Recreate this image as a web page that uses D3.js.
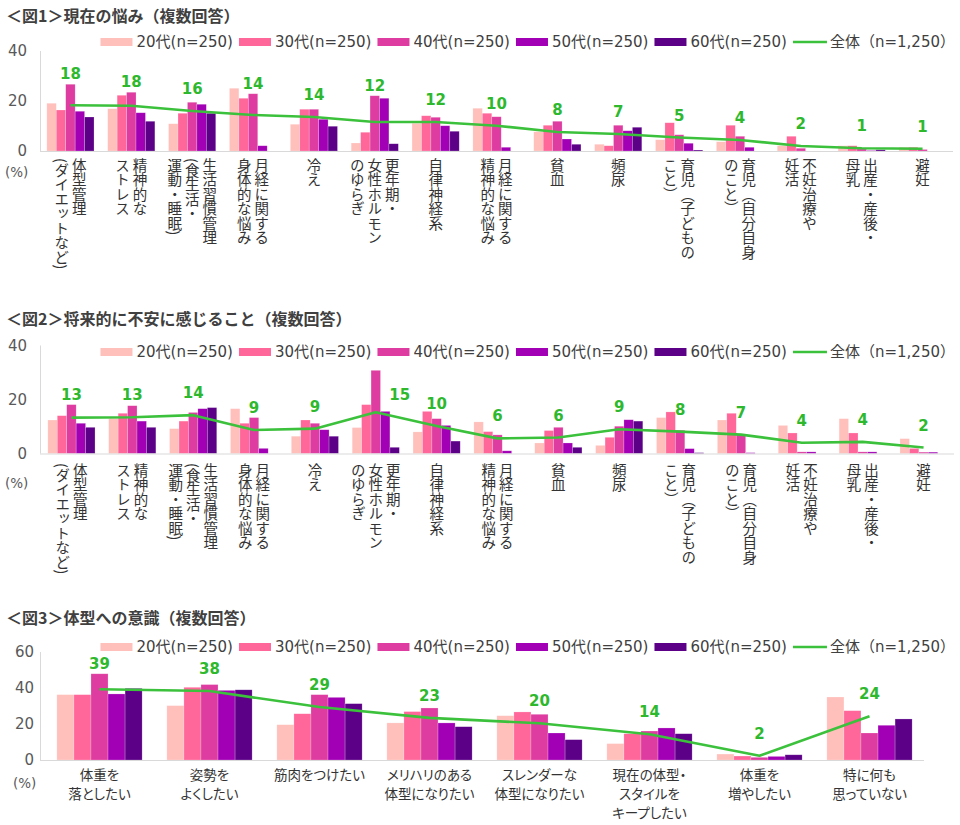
<!DOCTYPE html>
<html><head><meta charset="utf-8">
<script src="https://cdn.jsdelivr.net/npm/d3@7"></script>
<style>
html,body{margin:0;padding:0;background:#fff;}
svg{display:block;}
</style></head>
<body>
<svg id="chart" width="960" height="825"></svg>
<script>
// ---------- DATA ----------
const seriesNames = ["20代(n=250)", "30代(n=250)", "40代(n=250)", "50代(n=250)", "60代(n=250)"];
const totalName = "全体（n=1,250）";
const seriesColors = ["#FFBFBA", "#FF6699", "#DE3CA0", "#A200B5", "#5C0088"];
const lineColor = "#3CC13C";
const labelColor = "#2EB82E";

// Figure 1
const fig1Title = "＜図1＞現在の悩み（複数回答）";
const fig1Categories = [
  ["体型管理", "(ダイエットなど)"],
  ["精神的な", "ストレス"],
  ["生活習慣管理", "(食生活・", "運動・睡眠)"],
  ["月経に関する", "身体的な悩み"],
  ["冷え"],
  ["更年期・", "女性ホルモン", "のゆらぎ"],
  ["自律神経系"],
  ["月経に関する", "精神的な悩み"],
  ["貧血"],
  ["頻尿"],
  ["育児（子どもの", "こと）"],
  ["育児（自分自身", "のこと）"],
  ["不妊治療や", "妊活"],
  ["出産・産後・", "母乳"],
  ["避妊"]
];
const fig1Age20 = [19.1, 16.9, 10.9, 25.1, 10.7, 3.2, 11.1, 17.1, 7.7, 2.7, 4.5, 3.7, 2.1, 2.1, 1.5];
const fig1Age30 = [16.4, 22.3, 15.1, 21.1, 16.7, 7.5, 14.1, 15.1, 10.3, 2.1, 11.3, 10.3, 5.9, 2.1, 1.5];
const fig1Age40 = [26.7, 23.5, 19.5, 22.9, 16.7, 22.1, 13.5, 13.7, 11.9, 10.3, 6.5, 5.9, 1.1, 0.8, 0.6];
const fig1Age50 = [15.9, 15.3, 18.7, 2.1, 12.7, 21.1, 10.1, 1.5, 4.8, 8.1, 3.1, 1.5, 0, 0.2, 0];
const fig1Age60 = [13.6, 11.9, 15.1, 0, 9.9, 2.9, 7.9, 0, 2.7, 9.5, 0.4, 0, 0, 0.5, 0];
const fig1Total = [18.3, 18.1, 16.0, 14.4, 13.6, 11.6, 11.6, 10.1, 7.6, 6.8, 5.4, 4.4, 2.0, 1.1, 0.9];
const fig1Ticks = [0, 20, 40];

// Figure 2
const fig2Title = "＜図2＞将来的に不安に感じること（複数回答）";
const fig2Categories = fig1Categories;
const fig2Age20 = [12.4, 13.0, 9.2, 16.6, 6.4, 9.6, 8.0, 11.7, 3.9, 3.0, 13.3, 12.4, 10.4, 12.9, 5.5];
const fig2Age30 = [14.0, 14.9, 12.0, 11.2, 12.4, 18.1, 15.6, 8.1, 8.5, 6.0, 15.4, 14.9, 7.6, 7.6, 1.9];
const fig2Age40 = [18.1, 17.7, 15.2, 13.3, 11.2, 30.8, 12.9, 6.9, 9.7, 10.1, 8.6, 7.2, 0.6, 0.6, 0.5];
const fig2Age50 = [11.2, 12.0, 16.6, 1.9, 8.8, 15.6, 10.4, 1.0, 3.9, 12.5, 1.8, 0.3, 0.6, 0.6, 0.5];
const fig2Age60 = [9.7, 9.7, 17.0, 0, 6.4, 2.3, 4.6, 0, 2.3, 12.0, 0.3, 0, 0, 0, 0];
const fig2Total = [13.3, 13.4, 14.2, 8.7, 9.2, 15.3, 10.2, 5.6, 5.9, 9.0, 8.1, 7.0, 4.0, 4.3, 2.2];
const fig2Ticks = [0, 20, 40];

// Figure 3
const fig3Title = "＜図3＞体型への意識（複数回答）";
const fig3Categories = [
  ["体重を", "落としたい"],
  ["姿勢を", "よくしたい"],
  ["筋肉をつけたい"],
  ["メリハリのある", "体型になりたい"],
  ["スレンダーな", "体型になりたい"],
  ["現在の体型・", "スタイルを", "キープしたい"],
  ["体重を", "増やしたい"],
  ["特に何も", "思っていない"]
];
const fig3Age20 = [36.3, 30.2, 19.6, 20.6, 24.6, 9.1, 3.3, 35.0];
const fig3Age30 = [36.3, 40.4, 25.7, 26.9, 26.7, 14.6, 2.2, 27.4];
const fig3Age40 = [47.9, 41.9, 36.3, 28.9, 25.4, 16.1, 1.5, 15.0];
const fig3Age50 = [36.7, 38.7, 34.8, 20.6, 15.0, 17.8, 2.0, 19.3];
const fig3Age60 = [39.8, 39.0, 31.3, 18.5, 11.3, 14.6, 2.9, 22.8];
const fig3Total = [39.3, 38.3, 29.4, 23.4, 20.4, 14.3, 2.4, 24.3];
const fig3Ticks = [0, 20, 40, 60];

// ---------- DRAW ----------
const svg = d3.select("#chart");
svg.append("rect").attr("width", 960).attr("height", 825).attr("fill", "#fff");

const LATIN = "'DejaVu Sans', 'Noto Sans CJK JP', sans-serif";
const CJK = "'Noto Sans CJK JP', sans-serif";

function drawChart(o) {
  const g = svg.append("g");
  const series = o.series;
  const n = o.categories.length;

  // title
  g.append("text").attr("x", 6).attr("y", o.titleY)
    .attr("dominant-baseline", "central")
    .attr("font-family", CJK).attr("font-weight", "bold").attr("font-size", 16)
    .attr("fill", "#404040").text(o.title);

  const y = d3.scaleLinear().domain([0, o.yMax]).range([o.yBase, o.yTop]);
  const x0 = d3.scaleBand().domain(d3.range(n)).range([o.xStart, o.xEnd]).padding(0);
  const bw = x0.bandwidth();
  const gw = bw * 0.775;
  const x1 = d3.scaleBand().domain(d3.range(series.length)).range([0, gw]).padding(0);
  const cx = i => x0(i) + bw / 2;

  // y axis
  const yAxis = d3.axisLeft(y).tickValues(o.ticks).tickSize(0).tickPadding(0);
  const ay = g.append("g").attr("transform", `translate(${o.tickRight},0)`).call(yAxis);
  ay.select(".domain").remove();
  ay.selectAll("text").attr("font-family", LATIN).attr("font-size", 15).attr("fill", "#595959");
  g.append("line").attr("x1", 40.5).attr("x2", 40.5).attr("y1", o.yTop).attr("y2", o.yBase)
    .attr("stroke", "#d9d9d9").attr("stroke-width", 1);

  // bars
  series.forEach((arr, s) => {
    g.append("g").selectAll("rect").data(arr).join("rect")
      .attr("x", (d, i) => cx(i) - gw / 2 + x1(s))
      .attr("width", x1.bandwidth())
      .attr("y", d => y(d))
      .attr("height", d => o.yBase - y(d))
      .attr("fill", seriesColors[s])
      .attr("stroke", "#ffffff").attr("stroke-opacity", 0.35).attr("stroke-width", 0.6);
  });

  // baseline
  g.append("line").attr("x1", 40).attr("x2", o.baseEnd).attr("y1", o.yBase + 0.5).attr("y2", o.yBase + 0.5)
    .attr("stroke", "#d9d9d9").attr("stroke-width", 1);

  // total line
  const line = d3.line().x((d, i) => cx(i)).y(d => y(d)).curve(d3.curveLinear);
  g.append("path").datum(o.total).attr("d", line).attr("fill", "none")
    .attr("stroke", lineColor).attr("stroke-width", 2.6).attr("stroke-linejoin", "round");

  // total labels
  g.append("g").selectAll("text").data(o.total).join("text")
    .each(function (d, i) {
      const yl = y(d);
      const yb = y(series[2][i]);
      let lx = cx(i), ly;
      if (yl - yb > 35) { lx = cx(i) + 24; ly = yl - 17; }
      else { ly = Math.min(yl - 22, yb - 10); }
      d3.select(this).attr("x", lx).attr("y", ly);
    })
    .attr("text-anchor", "middle").attr("dominant-baseline", "central")
    .attr("font-family", LATIN).attr("font-weight", "bold").attr("font-size", 15)
    .attr("fill", labelColor).text(d => Math.round(d));

  // (%)
  g.append("text").attr("x", o.pctX).attr("y", o.pctY).attr("dominant-baseline", "central")
    .attr("font-family", LATIN).attr("font-size", 13.5).attr("fill", "#595959").text("(%)");

  // category labels
  if (o.vertical) {
    o.categories.forEach((lines, i) => {
      const sp = 17.5;
      lines.forEach((t, k) => {
        g.append("text")
          .attr("x", cx(i) + (lines.length - 1) / 2 * sp - k * sp)
          .attr("y", o.labelTop)
          .attr("text-anchor", "start")
          .attr("style", "writing-mode: vertical-rl; text-orientation: mixed;")
          .attr("font-family", CJK).attr("font-size", 14.5).attr("fill", "#333")
          .text(t);
      });
    });
  } else {
    o.categories.forEach((lines, i) => {
      lines.forEach((t, k) => {
        g.append("text").attr("x", cx(i)).attr("y", o.labelTop + k * 19)
          .attr("text-anchor", "middle").attr("dominant-baseline", "central")
          .attr("style", "font-feature-settings: 'palt';")
          .attr("font-family", CJK).attr("font-size", 13.5).attr("fill", "#333")
          .text(t);
      });
    });
  }

  // legend
  const lg = g.append("g");
  let xx = 0;
  seriesNames.forEach((name, s) => {
    lg.append("rect").attr("x", xx).attr("y", -4).attr("width", 32).attr("height", 8)
      .attr("fill", seriesColors[s]);
    const t = lg.append("text").attr("x", xx + 36).attr("y", 0).attr("dominant-baseline", "central")
      .attr("font-family", LATIN).attr("font-size", 15).attr("fill", "#404040").text(name);
    xx += 36 + t.node().getComputedTextLength() + 6;
  });
  lg.append("line").attr("x1", xx).attr("x2", xx + 34).attr("y1", 0).attr("y2", 0)
    .attr("stroke", lineColor).attr("stroke-width", 2.6);
  const tt = lg.append("text").attr("x", xx + 37).attr("y", 0).attr("dominant-baseline", "central")
    .attr("font-family", LATIN).attr("font-size", 15).attr("fill", "#404040").text(totalName);
  const total = xx + 37 + tt.node().getComputedTextLength();
  lg.attr("transform", `translate(${955 - total},${o.legendY})`);
}

drawChart({
  title: fig1Title, titleY: 15, categories: fig1Categories,
  series: [fig1Age20, fig1Age30, fig1Age40, fig1Age50, fig1Age60], total: fig1Total,
  ticks: fig1Ticks, yMax: 40, yTop: 51, yBase: 151, xStart: 40, xEnd: 953, baseEnd: 953,
  tickRight: 27, legendY: 42, vertical: true, labelTop: 158, pctX: 5, pctY: 172
});
drawChart({
  title: fig2Title, titleY: 318, categories: fig2Categories,
  series: [fig2Age20, fig2Age30, fig2Age40, fig2Age50, fig2Age60], total: fig2Total,
  ticks: fig2Ticks, yMax: 40, yTop: 345.5, yBase: 453.5, xStart: 41, xEnd: 954, baseEnd: 954,
  tickRight: 27, legendY: 352, vertical: true, labelTop: 463, pctX: 5, pctY: 483
});
drawChart({
  title: fig3Title, titleY: 617, categories: fig3Categories,
  series: [fig3Age20, fig3Age30, fig3Age40, fig3Age50, fig3Age60], total: fig3Total,
  ticks: fig3Ticks, yMax: 60, yTop: 652, yBase: 760, xStart: 44.5, xEnd: 924.5, baseEnd: 924,
  tickRight: 34, legendY: 647, vertical: false, labelTop: 774, pctX: 13, pctY: 783
});
</script>
</body></html>
